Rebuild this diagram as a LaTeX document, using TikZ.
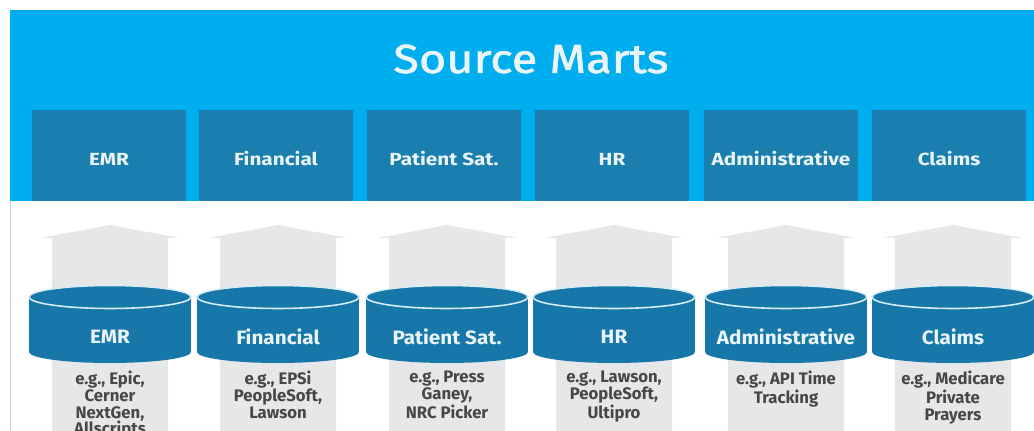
\documentclass[tikz,border=0pt]{standalone}
\usepackage{fontspec}
\setmainfont{Fira Sans}
\newfontfamily\widesans[FakeStretch=1.18]{Fira Sans}
\newfontfamily\midsans[FakeStretch=1.07]{Fira Sans}
\newfontfamily\titlesans[FakeStretch=1.16,FakeBold=1.6]{Fira Sans}
\usetikzlibrary{positioning}

\definecolor{bannerblue}{HTML}{00ADEF}
\definecolor{martblue}{HTML}{1A7EAE}
\definecolor{dbblue}{HTML}{1777A8}
\definecolor{dbedge}{HTML}{D6ECF6}
\definecolor{arrowgray}{HTML}{E6E7E8}
\definecolor{notegray}{HTML}{474747}
\definecolor{labelwhite}{HTML}{EAF5FB}

\begin{document}
\begin{tikzpicture}[x=0.02cm,y=-0.02cm,
	mart/.style={fill=martblue,minimum width=3.08cm,minimum height=1.82cm,inner sep=0pt},
	martlabel/.style={inner sep=0pt,text=labelwhite,font=\widesans\bfseries\fontsize{10}{12}\selectfont},
	dblabel/.style={inner sep=0pt,text=labelwhite,font=\midsans\bfseries\fontsize{11}{13}\selectfont},
	note/.style={anchor=north,align=center,inner sep=0pt,text=notegray,font=\bfseries\fontsize{9.5}{9.5}\selectfont},
	title/.style={text=labelwhite,font=\titlesans\fontsize{23}{27}\selectfont}]
		
		\useasboundingbox (0,0) rectangle (1034,431);
		\clip (0,0) rectangle (1034,431);
		
		% banner with the marts
		\fill[bannerblue] (10,10) rectangle (1034,201);
		\draw[gray!35,line width=0.4pt] (10,201) -- (10,431);
		\node[title] (srcmarts) at (531,59) {Source Marts};
		
		\foreach \i/\bx/\cx/\name/\note in {
			1/109/110/EMR/{e.g., Epic,\\Cerner\\NextGen,\\Allscripts},
			2/276/278/Financial/{e.g., EPSi\\PeopleSoft,\\Lawson},
			3/444/447/Patient Sat./{e.g., Press\\Ganey,\\NRC Picker},
			4/612/614/HR/{e.g., Lawson,\\PeopleSoft,\\Ultipro},
			5/781/786/Administrative/{e.g., API Time\\Tracking},
			6/949/953/Claims/{e.g., Medicare\\Private\\Prayers}} {
			
			\node[mart] (mart\i) at (\bx,155.5) {};
			\node[martlabel] (martname\i) at (\bx,159) {\name};
			
			% flat arrow behind the source
			\fill[arrowgray] (\cx-58,431) -- (\cx-58,238) -- (\cx-70,238) -- (\cx,225)
				-- (\cx+70,238) -- (\cx+58,238) -- (\cx+58,431) -- cycle;
			
			% source database
			\fill[dbblue] (\cx,352) ellipse [x radius=1.62cm,y radius=0.22cm];
			\fill[dbblue] (\cx-81,297) rectangle (\cx+81,352);
			\filldraw[fill=dbblue,draw=dbedge,line width=0.9pt] (\cx,297) ellipse [x radius=1.62cm,y radius=0.23cm];
			\node[dblabel] (src\i) at (\cx,337) {\name};
			\node[note] (note\i) at (\cx,371) {\note};
		}
		
\end{tikzpicture}
\end{document}
